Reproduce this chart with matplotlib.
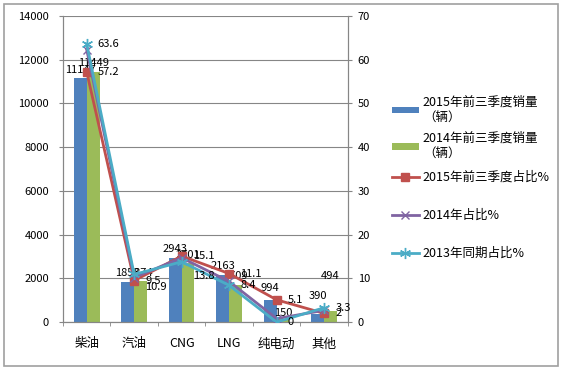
import numpy as np
import matplotlib
matplotlib.use("Agg")
import matplotlib.pyplot as plt
from matplotlib.patches import Rectangle

plt.rcParams['font.family'] = ['Noto Sans CJK SC', 'DejaVu Sans']

# data
categories = ['柴油', '汽油', 'CNG', 'LNG', '纯电动', '其他']
sales_2015 = [11147, 1853, 2943, 2163, 994, 390]
sales_2014 = [11449, 1874, 2701, 1709, 150, 494]
share_2015 = [57.2, 9.5, 15.1, 11.1, 5.1, 2.0]
share_2014 = [62.3, 10.2, 14.7, 9.3, 0.8, 2.7]
share_2013 = [63.6, 10.9, 13.8, 8.4, 0, 3.3]

labels = ['2015年前三季度销量\n（辆）', '2014年前三季度销量\n（辆）',
          '2015年前三季度占比%', '2014年占比%', '2013年同期占比%']

c_blue = '#4F81BD'
c_green = '#9BBB59'
c_red = '#C0504D'
c_purple = '#8064A2'
c_cyan = '#4BACC6'
c_axis = '#868686'

fig = plt.figure(figsize=(5.62, 3.69), dpi=100)
fig.patches.append(Rectangle((0.008, 0.008), 0.985, 0.982, transform=fig.transFigure,
                             fill=False, edgecolor='#a0a0a0', lw=1.2))
ax = fig.add_axes([0.112, 0.127, 0.507, 0.83])
ax2 = ax.twinx()

x = np.arange(len(categories))
w = 0.27
b1 = ax.bar(x - w/2, sales_2015, w, color=c_blue, label=labels[0], zorder=2)
b2 = ax.bar(x + w/2, sales_2014, w, color=c_green, label=labels[1], zorder=2)

# label offsets (points) as placed in the reference
dy_2015 = [2.5, 2.5, 2.5, 2.5, 5, 9]
dy_2014 = [2.5, 2.5, 2.5, 2.5, 0.5, 22]
for xs, vals, dys in [(x - w/2, sales_2015, dy_2015), (x + w/2, sales_2014, dy_2014)]:
    for xi, v, dy in zip(xs, vals, dys):
        ax.annotate(str(v), (xi, v), xytext=(0, dy), textcoords='offset points',
                    ha='center', va='bottom', fontsize=8, zorder=5)

l1, = ax2.plot(x, share_2015, color=c_red, lw=2, marker='s', ms=5.5, label=labels[2], zorder=3)
l2, = ax2.plot(x, share_2014, color=c_purple, lw=2, marker='x', ms=6, mew=1,
               label=labels[3], zorder=3)
l3, = ax2.plot(x, share_2013, color=c_cyan, lw=2, marker=(6, 2, 0), ms=8, mew=1,
               label=labels[4], zorder=3)

for xi, v in zip(x, share_2015):
    ax2.annotate(f'{v:g}', (xi, v), xytext=(8, 0), textcoords='offset points',
                 ha='left', va='center', fontsize=8, zorder=5)
cyan_dy = [0, -9, -10, 0, 0, 0]
for xi, v, dy in zip(x, share_2013, cyan_dy):
    ax2.annotate(f'{v:g}', (xi, v), xytext=(8, dy), textcoords='offset points',
                 ha='left', va='center', fontsize=8, zorder=5)

ax.set_xlim(-0.5, len(categories) - 0.5)
ax.set_ylim(0, 14000)
ax.set_yticks(np.arange(0, 14001, 2000))
ax2.set_ylim(0, 70)
ax2.set_yticks(np.arange(0, 71, 10))

ax.set_xticks(x)
ax.set_xticklabels(categories, fontsize=9)
ax.set_xticks(np.arange(-0.5, len(categories), 1), minor=True)
ax.tick_params(axis='x', which='major', length=0, pad=11)
ax.tick_params(axis='x', which='minor', length=3, color=c_axis, direction='out')
ax.tick_params(axis='y', length=3, color=c_axis, pad=7, labelsize=8)
ax2.tick_params(axis='y', length=3, color=c_axis, pad=4, labelsize=8)

ax.grid(axis='y', color=c_axis, lw=0.8, zorder=0)
ax.set_axisbelow(True)
for a in (ax, ax2):
    a.spines['top'].set_visible(False)
    for s in ('left', 'right', 'bottom'):
        a.spines[s].set_color(c_axis)
        a.spines[s].set_linewidth(0.8)

fig.legend([b1, b2], labels[:2], loc='upper left', bbox_to_anchor=(0.688, 0.755),
           frameon=False, fontsize=9, handlelength=2.2, handleheight=0.45,
           handletextpad=0.3, labelspacing=0.7, borderaxespad=0)
fig.legend([l1, l2, l3], labels[2:], loc='upper left', bbox_to_anchor=(0.688, 0.55),
           frameon=False, fontsize=9, handlelength=2.2, handletextpad=0.3,
           labelspacing=2.0, borderaxespad=0)

fig.savefig('out.png', dpi=100)
